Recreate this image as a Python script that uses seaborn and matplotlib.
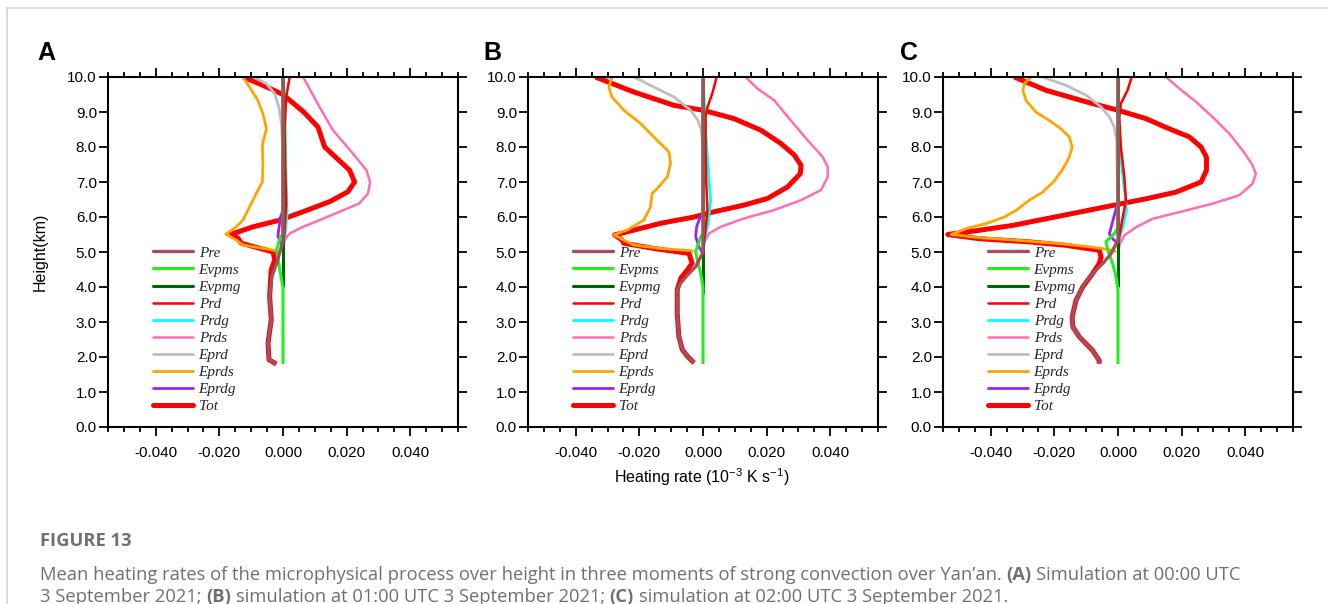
import numpy as np
import pandas as pd
import matplotlib
matplotlib.use("Agg")
import matplotlib.pyplot as plt
import seaborn as sns
from matplotlib.ticker import MultipleLocator, FixedLocator, FormatStrFormatter
from matplotlib.font_manager import FontProperties
from matplotlib.lines import Line2D

# ---------------- data (height km, heating rate) ----------------
series = ["Pre", "Evpms", "Evpmg", "Prd", "Prdg", "Prds", "Eprd", "Eprds", "Eprdg", "Tot"]
colors = ["#A0505E", "#22EE22", "#006400", "#FF0000", "#00FFFF", "#FF6EB4",
          "#BEBEBE", "#FFA500", "#A020F0", "#FF0000"]
widths = [2.4, 2.2, 2.2, 1.8, 2.0, 1.8, 2.0, 2.0, 2.0, 3.6]

# Panel A
A_Pre = [(10, 0), (5.3, 0), (5.15, -0.0005), (4.68, -0.002), (4.3, -0.0035), (3.73, -0.0042),
         (3.06, -0.0037), (2.4, -0.0047), (1.92, -0.0044), (1.8, -0.0021)]
A_Evpms = [(10, 0), (5.5, 0), (5.44, -0.0008), (5.06, -0.002), (4.49, -0.001), (4.0, 0), (1.8, 0)]
A_Evpmg = [(10, 0), (4.0, 0)]
A_Prd = [(10, 0.0021), (9.43, 0.001), (8.48, 0.0005), (7.34, 0.0007), (6.39, 0.001),
         (5.63, 0.0005), (5.06, 0)]
A_Prdg = [(10, 0.0002), (8.5, 0.0007), (7.05, 0.001), (6.1, 0.0013), (5.53, 0.0007), (5.25, 0.0002)]
A_Prds = [(10, 0.0063), (9.14, 0.0115), (8.48, 0.0157), (7.81, 0.022), (7.34, 0.0262), (7.0, 0.0274),
          (6.67, 0.0267), (6.39, 0.024), (6.15, 0.0178), (5.91, 0.0115), (5.72, 0.0063),
          (5.53, 0.0021), (5.34, 0.0005), (5.06, 0)]
A_Eprd = [(10, -0.0094), (9.81, -0.0052), (9.52, -0.0026), (9.14, -0.0013), (8.67, -0.0005),
          (8.2, -0.0002), (5.5, 0)]
A_Eprds = [(10, -0.0126), (9.71, -0.0105), (9.33, -0.0079), (8.95, -0.0063), (8.53, -0.0052),
           (8.05, -0.0065), (7.53, -0.0063), (7.0, -0.0065), (6.67, -0.0084), (6.29, -0.0105),
           (5.91, -0.0126), (5.72, -0.0147), (5.51, -0.018), (5.34, -0.0147), (5.2, -0.0126),
           (5.04, -0.0021), (5.0, -0.0016)]
A_Eprdg = [(10, 0), (6.2, 0), (6.0, -0.0008), (5.53, -0.0015), (5.44, -0.0016), (5.25, -0.0005), (5.1, 0)]
A_Tot = [(10, -0.0124), (9.75, -0.006), (9.5, 0.0), (9.0, 0.0065), (8.57, 0.011), (8.0, 0.0131),
         (7.34, 0.0209), (7.0, 0.0225), (6.72, 0.0204), (6.44, 0.0147), (6.15, 0.0063),
         (5.91, -0.001), (5.72, -0.0094), (5.51, -0.0162), (5.39, -0.0141), (5.25, -0.0131),
         (5.0, -0.0031), (4.77, -0.0026), (4.49, -0.0037), (3.73, -0.0042), (3.06, -0.0037),
         (2.4, -0.0047), (1.92, -0.0044), (1.8, -0.0021)]

# Panel B
B_Pre = [(10, 0), (5.0, 0), (4.87, -0.0007), (4.58, -0.0023), (4.34, -0.0049), (4.11, -0.007),
         (3.92, -0.0081), (3.25, -0.0081), (2.59, -0.0076), (2.21, -0.0065), (2.02, -0.0049),
         (1.83, -0.0028)]
B_Evpms = [(10, 0), (5.5, 0), (5.44, -0.0007), (5.01, -0.0023), (4.77, -0.0018), (4.39, -0.0007),
           (4.0, 0), (1.8, 0)]
B_Evpmg = [(10, 0), (3.8, 0)]
B_Prd = [(10, 0.0043), (9.52, 0.0029), (9.14, 0.0014), (8.86, 0.0008), (8.0, 0.0008),
         (7.05, 0.001), (6.2, 0.0014), (5.63, 0.0008), (5.15, 0.0001)]
B_Prdg = [(10, 0), (8.5, 0.0008), (7.05, 0.0019), (6.48, 0.0024), (5.82, 0.0016), (5.34, 0.0005), (5.06, 0)]
B_Prds = [(10, 0.0134), (9.67, 0.0171), (9.33, 0.0224), (8.76, 0.0276), (8.19, 0.0329), (7.72, 0.0376),
          (7.43, 0.0392), (7.15, 0.0392), (6.77, 0.0371), (6.48, 0.0308), (6.2, 0.0224),
          (5.96, 0.0129), (5.72, 0.0056), (5.53, 0.0019), (5.29, 0.0005), (5.06, 0)]
B_Eprd = [(10, -0.0217), (9.71, -0.0154), (9.43, -0.0091), (9.05, -0.0039), (8.76, -0.0016),
          (8.48, -0.0005), (8.1, -0.0002), (5.5, 0)]
B_Eprds = [(10, -0.0286), (9.71, -0.0296), (9.43, -0.0286), (9.05, -0.0249), (8.67, -0.0196),
           (8.19, -0.0144), (7.86, -0.0107), (7.53, -0.0102), (7.15, -0.0112), (6.86, -0.0139),
           (6.67, -0.016), (6.29, -0.0165), (5.91, -0.0186), (5.63, -0.0238), (5.49, -0.028),
           (5.34, -0.0249), (5.2, -0.0217), (5.1, -0.0133), (5.04, -0.0039), (5.0, -0.003)]
B_Eprdg = [(10, 0), (6.1, 0), (6.0, -0.0009), (5.72, -0.002), (5.44, -0.0023), (5.15, -0.0013), (4.96, 0)]
B_Tot = [(10, -0.0338), (9.57, -0.0217), (9.19, -0.0091), (9.05, 0), (8.81, 0.0098), (8.48, 0.0182),
         (8.1, 0.0245), (7.77, 0.0287), (7.48, 0.0308), (7.24, 0.0306), (6.86, 0.0266),
         (6.53, 0.0203), (6.34, 0.0129), (6.15, 0.0035), (6.0, -0.0028), (5.82, -0.0133),
         (5.53, -0.0259), (5.49, -0.0278), (5.34, -0.0254), (5.25, -0.0249), (5.1, -0.0154),
         (4.96, -0.0044), (4.68, -0.0034), (4.49, -0.0049), (4.25, -0.007), (3.92, -0.0081),
         (3.25, -0.0081), (2.59, -0.0076), (2.21, -0.0065), (2.02, -0.0049), (1.83, -0.0028)]

# Panel C
C_Pre = [(10, 0), (5.3, 0), (5.24, -0.0006), (4.95, -0.0022), (4.67, -0.0048), (4.38, -0.008),
         (4.1, -0.0106), (3.62, -0.0132), (3.14, -0.0144), (2.86, -0.0142), (2.57, -0.0121),
         (2.19, -0.008), (1.9, -0.0059), (1.81, -0.0059)]
C_Evpms = [(10, 0), (5.7, 0), (5.52, -0.0012), (5.29, -0.0038), (5.05, -0.0032), (4.67, -0.0017),
           (4.29, -0.0006), (3.9, 0), (1.8, 0)]
C_Evpmg = [(10, 0), (4.0, 0)]
C_Prd = [(10, 0.0043), (9.62, 0.003), (9.24, 0.0009), (8.86, 0.0004), (8.0, 0.0009), (7.14, 0.002),
         (6.48, 0.0025), (5.9, 0.0013), (5.43, 0.0004), (5.1, 0)]
C_Prdg = [(10, 0), (8.5, 0.0002), (8.19, 0.0004), (7.33, 0.0013), (6.57, 0.0023), (6.19, 0.0027),
          (5.71, 0.0015), (5.43, 0.0004), (5.1, 0)]
C_Prds = [(10, 0.0151), (9.67, 0.0193), (9.29, 0.0245), (8.86, 0.0297), (8.38, 0.035), (7.9, 0.0392),
          (7.48, 0.0423), (7.24, 0.0433), (6.95, 0.0423), (6.62, 0.0381), (6.38, 0.0297),
          (6.14, 0.0193), (5.95, 0.0109), (5.71, 0.0057), (5.48, 0.002), (5.24, 0.0006), (5.0, 0)]
C_Eprd = [(10, -0.0237), (9.76, -0.0163), (9.48, -0.01), (9.14, -0.0053), (8.86, -0.0027),
          (8.57, -0.0012), (8.19, -0.0004), (5.5, 0)]
C_Eprds = [(10, -0.0273), (9.81, -0.0294), (9.62, -0.0299), (9.33, -0.0289), (9.0, -0.0258),
           (8.76, -0.0216), (8.52, -0.0179), (8.29, -0.0153), (8.0, -0.0144), (7.71, -0.0153),
           (7.33, -0.0176), (7.0, -0.0203), (6.71, -0.0237), (6.48, -0.0279), (6.19, -0.032),
           (6.0, -0.0357), (5.81, -0.0415), (5.67, -0.0477), (5.5, -0.0524), (5.41, -0.0436),
           (5.33, -0.031), (5.24, -0.0184), (5.14, -0.008), (5.05, -0.0017), (5.0, -0.0006)]
C_Eprdg = [(10, 0), (6.5, 0), (6.3, -0.0004), (5.97, -0.0014), (5.52, -0.0027), (5.38, -0.0017), (5.24, 0)]
C_Tot = [(10, -0.0326), (9.62, -0.0226), (9.29, -0.01), (9.05, 0), (8.81, 0.0088), (8.52, 0.0161),
         (8.29, 0.0224), (8.0, 0.0261), (7.71, 0.0278), (7.33, 0.0278), (7.0, 0.0261),
         (6.71, 0.0182), (6.52, 0.0088), (6.33, -0.0017), (6.14, -0.0121), (5.95, -0.0226),
         (5.76, -0.0331), (5.62, -0.0436), (5.5, -0.0535), (5.38, -0.0436), (5.29, -0.0279),
         (5.19, -0.0163), (5.05, -0.0059), (4.86, -0.0053), (4.67, -0.0059), (4.38, -0.008),
         (4.0, -0.0111), (3.62, -0.0132), (3.14, -0.0144), (2.86, -0.0142), (2.57, -0.0121),
         (2.19, -0.008), (1.9, -0.0059), (1.81, -0.0059)]

panels = ["A", "B", "C"]
xticks = [-0.040, -0.020, 0.000, 0.020, 0.040]
xticklabels = ["-0.040", "-0.020", "0.000", "0.020", "0.040"]
yticks = [0.0, 1.0, 2.0, 3.0, 4.0, 5.0, 6.0, 7.0, 8.0, 9.0, 10.0]

data = {"A": [A_Pre, A_Evpms, A_Evpmg, A_Prd, A_Prdg, A_Prds, A_Eprd, A_Eprds, A_Eprdg, A_Tot],
        "B": [B_Pre, B_Evpms, B_Evpmg, B_Prd, B_Prdg, B_Prds, B_Eprd, B_Eprds, B_Eprdg, B_Tot],
        "C": [C_Pre, C_Evpms, C_Evpmg, C_Prd, C_Prdg, C_Prds, C_Eprd, C_Eprds, C_Eprdg, C_Tot]}

rows = []
for p in panels:
    for s, pts in zip(series, data[p]):
        for i, (h, v) in enumerate(pts):
            rows.append({"panel": p, "series": s, "order": i, "h": h, "v": v})
df = pd.DataFrame(rows)

# ---------------- figure ----------------
sns.set_theme(style="ticks")
plt.rcParams["font.family"] = ["Liberation Sans", "DejaVu Sans"]
plt.rcParams["mathtext.default"] = "regular"

W, H = 1328, 604
fig = plt.figure(figsize=(W / 100, H / 100), dpi=100)
fig.patch.set_facecolor("white")

lefts = [108, 528, 943]
label_x = [37, 483, 900]
ax_top, ax_bot = 77, 427
ax_w = 350
legend_font = FontProperties(family="Liberation Serif", style="italic", size=11)

for p, lp, lx in zip(panels, lefts, label_x):
    ax = fig.add_axes([lp / W, 1 - ax_bot / H, ax_w / W, (ax_bot - ax_top) / H])
    sub = df[df.panel == p]
    # draw Tot first (bottom), Pre last (top)
    for k in range(len(series) - 1, -1, -1):
        s = series[k]
        d = sub[sub.series == s].sort_values("order")
        sns.lineplot(data=d, x="v", y="h", sort=False, estimator=None, color=colors[k],
                     linewidth=widths[k], ax=ax, legend=False, solid_capstyle="butt")
    ax.set_xlim(-0.055, 0.055)
    ax.set_ylim(0, 10)
    ax.xaxis.set_major_locator(FixedLocator(xticks))
    ax.set_xticklabels(xticklabels)
    ax.xaxis.set_minor_locator(MultipleLocator(0.005))
    ax.yaxis.set_major_locator(FixedLocator(yticks))
    ax.yaxis.set_major_formatter(FormatStrFormatter("%.1f"))
    ax.set_xlabel("")
    ax.set_ylabel("")
    ax.tick_params(which="both", direction="out", top=True, right=True,
                   labeltop=False, labelright=False, color="black", width=1.3)
    ax.tick_params(which="major", length=6.5, labelsize=11, labelcolor="black")
    ax.tick_params(axis="x", which="major", pad=7.5)
    ax.tick_params(axis="y", which="major", pad=1.5)
    ax.tick_params(which="minor", length=3.5)
    for sp in ax.spines.values():
        sp.set_linewidth(1.5)
        sp.set_color("black")
    handles = [Line2D([0], [0], color=c, lw=w) for c, w in zip(colors, widths)]
    ax.legend(handles, series, loc="upper left", bbox_to_anchor=(0.128, 0.517),
              frameon=False, prop=legend_font, handlelength=2.6, handletextpad=0.4,
              labelspacing=0.22, borderaxespad=0, borderpad=0)
    fig.text(lx / W, 1 - 60 / H, p, fontsize=18, fontweight="bold",
             va="baseline", ha="left", color="black")

fig.text(40 / W, 1 - 252 / H, "Height(km)", rotation=90, fontsize=11.5,
         ha="center", va="center", color="black")
fig.text(702 / W, 1 - 477 / H, "Heating rate (10$^{-3}$ K s$^{-1}$)", fontsize=11.5,
         ha="center", va="center", color="black")

# frame lines (top and left)
fig.add_artist(Line2D([7 / W, 1], [1 - 8 / H, 1 - 8 / H], color="#d4d4d4", lw=1.2))
fig.add_artist(Line2D([7 / W, 7 / W], [0, 1 - 8 / H], color="#d4d4d4", lw=1.2))

# caption
cap_color = "#707070"
cap_fam = ["Open Sans", "DejaVu Sans"]
cap_size = 13.2
fig.canvas.draw()
renderer = fig.canvas.get_renderer()


def text_width(s, bold):
    t = fig.text(0, 0, s, fontsize=cap_size, family=cap_fam,
                 fontweight="bold" if bold else "normal")
    w = t.get_window_extent(renderer).width
    t.remove()
    return w


space_w = text_width("x x", False) - text_width("xx", False)


def draw_line(x_px, y_px, pieces):
    x = x_px
    for i, (s, bold) in enumerate(pieces):
        t = fig.text(x / W, 1 - y_px / H, s, fontsize=cap_size, family=cap_fam,
                     fontweight="bold" if bold else "normal", color=cap_color,
                     va="baseline", ha="left")
        x += t.get_window_extent(renderer).width + space_w


draw_line(40, 546, [("FIGURE 13", True)])
draw_line(40, 580, [("Mean heating rates of the microphysical process over height in three moments "
                     "of strong convection over Yan\u2019an.", False), ("(A)", True),
                    ("Simulation at 00:00 UTC", False)])
draw_line(40, 602, [("3 September 2021;", False), ("(B)", True),
                    ("simulation at 01:00 UTC 3 September 2021;", False), ("(C)", True),
                    ("simulation at 02:00 UTC 3 September 2021.", False)])

fig.savefig("out.png", dpi=100, facecolor="white")
